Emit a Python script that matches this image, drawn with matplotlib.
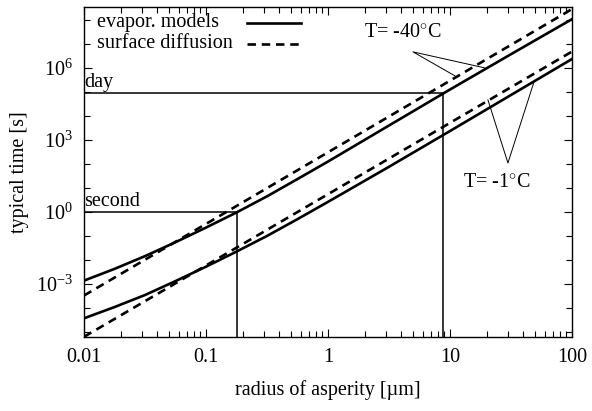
import numpy as np
import matplotlib
matplotlib.use("Agg")
import matplotlib.pyplot as plt
from matplotlib.ticker import FixedLocator, FuncFormatter, LogLocator, NullFormatter

# -------------------------------
# DATA (log10 of time in s)
# -------------------------------
radius = [0.01, 0.0178, 0.0316, 0.0562, 0.1, 0.178, 0.316, 0.562, 1.0, 3.16, 10.0, 31.6, 100.0]
evap_m40 = [-2.86, -2.37, -1.84, -1.26, -0.65, -0.02, 0.65, 1.37, 2.10, 3.60, 5.10, 6.57, 8.03]
evap_m1 = [-4.43, -3.96, -3.46, -2.88, -2.28, -1.65, -1.00, -0.30, 0.42, 1.88, 3.37, 4.87, 6.37]

radius_diff = [0.01, 100.0]
diff_m40 = [-3.48, 8.45]
diff_m1 = [-5.20, 6.68]

day_time = 86400.0
day_radius = 8.8
second_time = 1.0
second_radius = 0.18

plt.rcParams["font.family"] = ["Liberation Serif", "DejaVu Serif"]
plt.rcParams["mathtext.fontset"] = "custom"
plt.rcParams["mathtext.rm"] = "Liberation Serif"
plt.rcParams["mathtext.it"] = "Liberation Serif:italic"
plt.rcParams["font.size"] = 14.5

fig = plt.figure(figsize=(5.92, 4.11), dpi=100)
ax = fig.add_axes([0.142, 0.180, 0.824, 0.803])

def tt(vals):
    return [10.0 ** v for v in vals]

lw = 1.9
ax.plot(radius, tt(evap_m40), color="black", lw=lw)
ax.plot(radius, tt(evap_m1), color="black", lw=lw)
ax.plot(radius_diff, tt(diff_m40), color="black", lw=lw, dashes=(3.2, 2.2))
ax.plot(radius_diff, tt(diff_m1), color="black", lw=lw, dashes=(3.2, 2.2))

# reference lines for day and second
ybot = 10 ** -5.21
ax.plot([0.01, day_radius, day_radius], [day_time, day_time, ybot], color="black", lw=1.1)
ax.plot([0.01, second_radius, second_radius], [second_time, second_time, ybot], color="black", lw=1.1)
ax.text(0.0101, day_time * 1.1, "day", ha="left", va="bottom")
ax.text(0.0101, second_time * 1.1, "second", ha="left", va="bottom")

# temperature annotations
ax.text(4.12, 10 ** 7.46, "T= -40$^{\\circ}$C", ha="center", va="center")
ax.plot([19.4, 4.98, 11.0], [10 ** 6.0, 10 ** 6.67, 10 ** 5.67], color="black", lw=0.7)
ax.text(24.3, 10 ** 1.21, "T= -1$^{\\circ}$C", ha="center", va="center")
ax.plot([20.5, 29.9, 48.9], [10 ** 4.67, 10 ** 2.04, 10 ** 5.42], color="black", lw=0.7)

# legend, gnuplot style (text left, sample right)
ax.text(0.027, 0.952, "evapor. models", transform=ax.transAxes, ha="left", va="center")
ax.text(0.027, 0.888, "surface diffusion", transform=ax.transAxes, ha="left", va="center")
ax.plot([0.334, 0.445], [0.952, 0.952], transform=ax.transAxes, color="black", lw=lw)
ax.plot([0.334, 0.445], [0.888, 0.888], transform=ax.transAxes, color="black", lw=lw,
        dashes=(3.2, 2.2))

ax.set_xscale("log")
ax.set_yscale("log")
ax.set_xlim(0.01, 100)
ax.set_ylim(ybot, 10 ** 8.54)

ax.xaxis.set_major_locator(FixedLocator([0.01, 0.1, 1, 10, 100]))
ax.xaxis.set_major_formatter(FuncFormatter(lambda v, p: "%g" % v))
ax.xaxis.set_minor_locator(LogLocator(base=10, subs=np.arange(2, 10)))
ax.xaxis.set_minor_formatter(NullFormatter())

ax.yaxis.set_major_locator(FixedLocator([1e-3, 1e0, 1e3, 1e6]))
ax.yaxis.set_major_formatter(FuncFormatter(lambda v, p: "$10^{%d}$" % round(np.log10(v))))
ax.yaxis.set_minor_locator(FixedLocator([10.0 ** k for k in range(-5, 9)]))
ax.yaxis.set_minor_formatter(NullFormatter())

ax.tick_params(which="both", direction="in", top=True, right=True, width=0.8)
ax.tick_params(which="major", length=6, pad=8)
ax.tick_params(which="minor", length=4)
for s in ax.spines.values():
    s.set_linewidth(1.0)

ax.set_xlabel("radius of asperity [µm]", labelpad=9)
ax.set_ylabel("typical time [s]", labelpad=5)

fig.savefig("out.png", dpi=100)
